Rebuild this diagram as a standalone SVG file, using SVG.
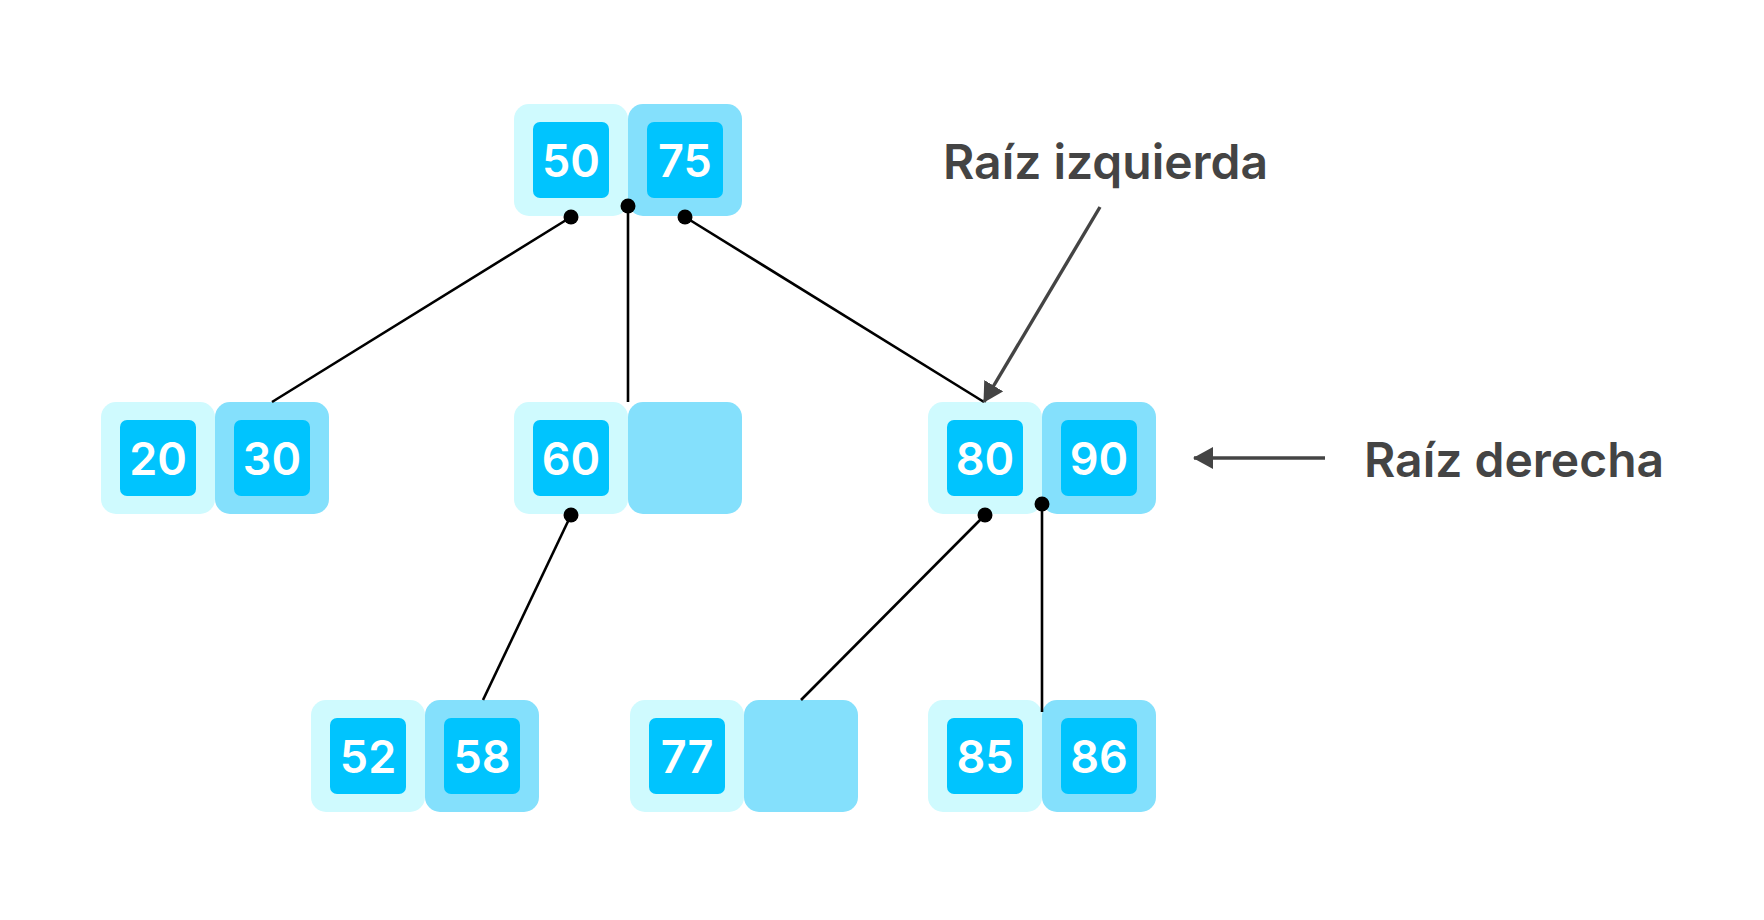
<svg xmlns="http://www.w3.org/2000/svg" width="1764" height="920" viewBox="0 0 1764 920">
<style>
.lt{fill:#CFFAFE}
.md{fill:#84E0FC}
.in{fill:#00C4FE}
.num{font-family:Inter,"Liberation Sans",sans-serif;font-size:45px;font-weight:600;fill:#FFFFFF;text-anchor:middle}
.lbl{font-family:Inter,"Liberation Sans",sans-serif;font-size:48px;font-weight:600;fill:#444444}
.edge{stroke:#000;stroke-width:2.6;fill:none}
.dot{fill:#000}
.ann{stroke:#444;stroke-width:3.4;fill:none}
</style>
<defs>
<marker id="ah" viewBox="0 0 20 22" refX="19" refY="11" markerWidth="20" markerHeight="22" markerUnits="userSpaceOnUse" orient="auto">
<path d="M0,0 L20,11 L0,22 Z" fill="#444"/>
</marker>
</defs>
<rect width="1764" height="920" fill="#FFFFFF"/>

<g id="n50_75">
<rect class="lt" x="514" y="104" width="114" height="112" rx="15"/>
<rect class="md" x="628" y="104" width="114" height="112" rx="15"/>
<rect class="in" x="533" y="122" width="76" height="76" rx="7"/>
<rect class="in" x="647" y="122" width="76" height="76" rx="7"/>
<text class="num" x="571" y="177">50</text>
<text class="num" x="685" y="177">75</text>
</g>

<g id="n20_30">
<rect class="lt" x="101" y="402" width="114" height="112" rx="15"/>
<rect class="md" x="215" y="402" width="114" height="112" rx="15"/>
<rect class="in" x="120" y="420" width="76" height="76" rx="7"/>
<rect class="in" x="234" y="420" width="76" height="76" rx="7"/>
<text class="num" x="158" y="475">20</text>
<text class="num" x="272" y="475">30</text>
</g>

<g id="n60">
<rect class="lt" x="514" y="402" width="114" height="112" rx="15"/>
<rect class="md" x="628" y="402" width="114" height="112" rx="15"/>
<rect class="in" x="533" y="420" width="76" height="76" rx="7"/>
<text class="num" x="571" y="475">60</text>
</g>

<g id="n80_90">
<rect class="lt" x="928" y="402" width="114" height="112" rx="15"/>
<rect class="md" x="1042" y="402" width="114" height="112" rx="15"/>
<rect class="in" x="947" y="420" width="76" height="76" rx="7"/>
<rect class="in" x="1061" y="420" width="76" height="76" rx="7"/>
<text class="num" x="985" y="475">80</text>
<text class="num" x="1099" y="475">90</text>
</g>

<g id="n52_58">
<rect class="lt" x="311" y="700" width="114" height="112" rx="15"/>
<rect class="md" x="425" y="700" width="114" height="112" rx="15"/>
<rect class="in" x="330" y="718" width="76" height="76" rx="7"/>
<rect class="in" x="444" y="718" width="76" height="76" rx="7"/>
<text class="num" x="368" y="773">52</text>
<text class="num" x="482" y="773">58</text>
</g>

<g id="n77">
<rect class="lt" x="630" y="700" width="114" height="112" rx="15"/>
<rect class="md" x="744" y="700" width="114" height="112" rx="15"/>
<rect class="in" x="649" y="718" width="76" height="76" rx="7"/>
<text class="num" x="687" y="773">77</text>
</g>

<g id="n85_86">
<rect class="lt" x="928" y="700" width="114" height="112" rx="15"/>
<rect class="md" x="1042" y="700" width="114" height="112" rx="15"/>
<rect class="in" x="947" y="718" width="76" height="76" rx="7"/>
<rect class="in" x="1061" y="718" width="76" height="76" rx="7"/>
<text class="num" x="985" y="773">85</text>
<text class="num" x="1099" y="773">86</text>
</g>

<g id="connectors">
<line class="edge" x1="571" y1="217" x2="272" y2="402"/>
<line class="edge" x1="628" y1="206" x2="628" y2="402"/>
<line class="edge" x1="685" y1="217" x2="984" y2="402"/>
<line class="edge" x1="571" y1="515" x2="483" y2="700"/>
<line class="edge" x1="985" y1="515" x2="801" y2="700"/>
<line class="edge" x1="1042" y1="504" x2="1042" y2="712"/>
<circle class="dot" cx="571" cy="217" r="7.5"/>
<circle class="dot" cx="628" cy="206" r="7.5"/>
<circle class="dot" cx="685" cy="217" r="7.5"/>
<circle class="dot" cx="571" cy="515" r="7.5"/>
<circle class="dot" cx="985" cy="515" r="7.5"/>
<circle class="dot" cx="1042" cy="504" r="7.5"/>
</g>

<g id="annotations">
<line class="ann" x1="1100" y1="207" x2="984" y2="402" marker-end="url(#ah)"/>
<text id="lbl_izq" class="lbl" x="943" y="179">Raíz izquierda</text>
<line class="ann" x1="1325" y1="458" x2="1194" y2="458" marker-end="url(#ah)"/>
<text id="lbl_der" class="lbl" x="1364" y="477">Raíz derecha</text>
</g>
</svg>
